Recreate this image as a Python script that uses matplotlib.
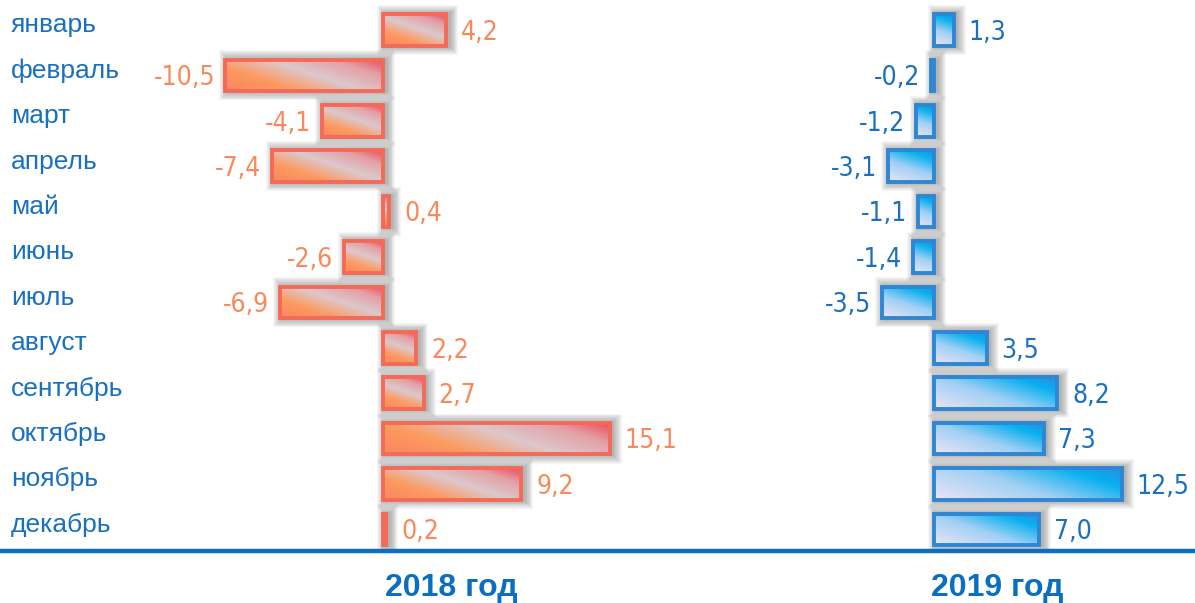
import matplotlib
matplotlib.use("Agg")
import matplotlib.pyplot as plt
import numpy as np
from matplotlib.patches import Rectangle
from matplotlib.colors import LinearSegmentedColormap
from matplotlib.transforms import blended_transform_factory

months = ["январь", "февраль", "март", "апрель", "май", "июнь", "июль",
          "август", "сентябрь", "октябрь", "ноябрь", "декабрь"]
values_2018 = [4.2, -10.5, -4.1, -7.4, 0.4, -2.6, -6.9, 2.2, 2.7, 15.1, 9.2, 0.2]
values_2019 = [1.3, -0.2, -1.2, -3.1, -1.1, -1.4, -3.5, 3.5, 8.2, 7.3, 12.5, 7.0]
panel_titles = ["2018 год", "2019 год"]

W, H = 1195, 603
fig = plt.figure(figsize=(W / 100, H / 100), dpi=100)

red_cmap = LinearSegmentedColormap.from_list(
    "red", [(0.0, "#ee4a5e"), (0.2, "#e4a0a6"), (0.45, "#dcc8cc"),
            (0.72, "#fd9a60"), (1.0, "#fb8560")])
blue_cmap = LinearSegmentedColormap.from_list(
    "blue", [(0.0, "#2a8ee0"), (0.2, "#08b0f0"), (0.55, "#a0d0f4"), (1.0, "#ece4f6")])

label_font = ["DejaVu Sans"]
PX = 15.0  # pixels per unit in x
ROW0, ROWSTEP = 30.0, 45.4


def make_axes(left_px, right_px, zero_px):
    ax = fig.add_axes([left_px / W, 1 - 551 / H, (right_px - left_px) / W, 551 / H])
    ax.set_xlim((left_px - zero_px) / PX, (right_px - zero_px) / PX)
    ax.set_ylim((551 - ROW0) / ROWSTEP, -ROW0 / ROWSTEP)
    ax.axis("off")
    return ax


def draw_panel(ax, vals, cmap, edge, txtcol):
    h = 0.7
    for i, v in enumerate(vals):
        x0 = min(0, v)
        w = abs(v)
        # soft shadow, built from stacked transparent boxes
        for k in range(10):
            p = 1.0 + k * 0.9
            ax.add_patch(Rectangle((x0 - p / PX + 3 / PX, i - h / 2 - p / ROWSTEP),
                                   w + 2 * p / PX, h + 2 * p / ROWSTEP,
                                   facecolor="#505050", edgecolor="none",
                                   alpha=0.05, zorder=1))
        # gradient fill, diagonal from top-right to bottom-left (pixel based)
        wpx, hpx = w * PX, h * ROWSTEP
        dx = (1 - np.linspace(0, 1, 80)[None, :]) * wpx
        dy = np.linspace(0, 1, 40)[:, None] * hpx
        s = (dx + 3.0 * dy) / (wpx + 3.0 * hpx)
        im = ax.imshow(s, cmap=cmap, extent=(x0, x0 + w, i + h / 2, i - h / 2),
                       aspect="auto", interpolation="bilinear", zorder=2, vmin=0, vmax=1)
        box = Rectangle((x0, i - h / 2), w, h, facecolor="none", edgecolor=edge,
                        linewidth=2.8, zorder=3)
        ax.add_patch(box)
        im.set_clip_path(box)
        lab = f"{v:.1f}".replace(".", ",")
        if v >= 0:
            ax.text(v + 1.0, i + 0.06, lab, ha="left", va="center", fontsize=19,
                    color=txtcol, family=label_font, fontstretch="condensed", zorder=4)
        else:
            ax.text(v - 0.7, i + 0.06, lab, ha="right", va="center", fontsize=19,
                    color=txtcol, family=label_font, fontstretch="condensed", zorder=4)


ax1 = make_axes(150, 690, 383)
ax2 = make_axes(690, 1195, 934)
draw_panel(ax1, values_2018, red_cmap, "#f46a58", "#f7895a")
draw_panel(ax2, values_2019, blue_cmap, "#2f86d2", "#1a6fbe")

trans = blended_transform_factory(fig.transFigure, ax1.transData)
for i, m in enumerate(months):
    ax1.text(11 / W, i - 0.1, m, transform=trans, ha="left", va="center",
             fontsize=19, color="#1a70c0", family="Liberation Sans", clip_on=False)

fig.add_artist(plt.Line2D([0, 1], [1 - 551 / H, 1 - 551 / H], color="#0a6fc0",
                          linewidth=3.2, transform=fig.transFigure))
fig.text(451 / W, 1 - 588 / H, panel_titles[0], ha="center", va="center", fontsize=23,
         fontweight="bold", color="#0a6fc0", family="Liberation Sans")
fig.text(997 / W, 1 - 588 / H, panel_titles[1], ha="center", va="center", fontsize=23,
         fontweight="bold", color="#0a6fc0", family="Liberation Sans")

fig.savefig("out.png", dpi=100)
